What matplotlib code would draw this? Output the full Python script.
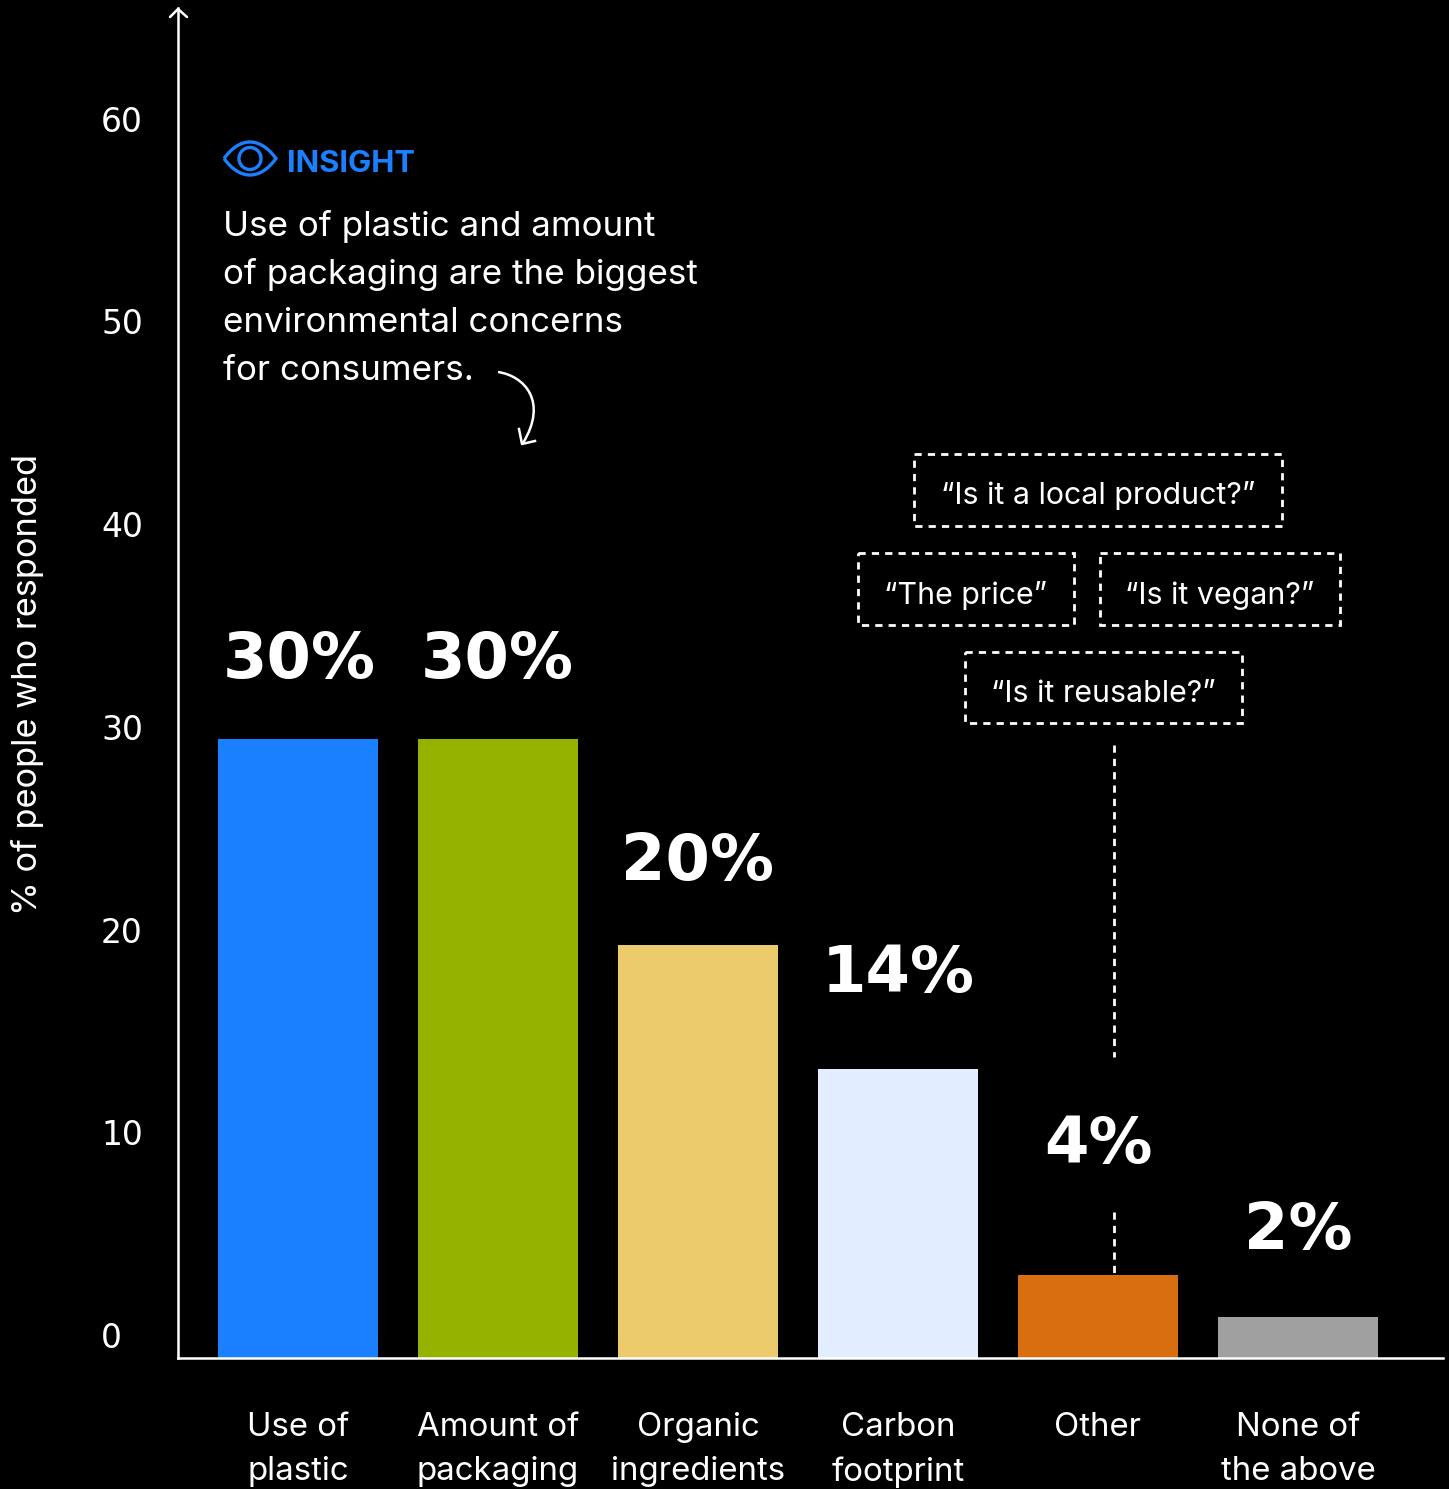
import matplotlib
matplotlib.use('Agg')
import matplotlib.pyplot as plt
from matplotlib.patches import Rectangle, PathPatch, Circle
from matplotlib.path import Path

W, H = 1449, 1489
BODY = ['Inter', 'DejaVu Sans']
NUM = ['DejaVu Sans']

categories = ['Use of\nplastic', 'Amount of\npackaging', 'Organic\ningredients',
              'Carbon\nfootprint', 'Other', 'None of\nthe above']
values = [30, 30, 20, 14, 4, 2]
colors = ['#1A80FF', '#96B200', '#EBCB6B', '#E2EEFF', '#D96E10', '#A0A0A0']
ticks = [0, 10, 20, 30, 40, 50, 60]
insight = ['Use of plastic and amount', 'of packaging are the biggest',
           'environmental concerns', 'for consumers.']
quotes = ['\u201cIs it a local product?\u201d', '\u201cThe price\u201d',
          '\u201cIs it vegan?\u201d', '\u201cIs it reusable?\u201d']


def pt(px):
    return px * 0.72


fig = plt.figure(figsize=(W / 100, H / 100), dpi=100, facecolor='black')

# bar axes: left edge on the y axis line, bottom edge on the baseline
left, right, top, bottom = 178, 1443, 8, 1358
ax = fig.add_axes([left / W, 1 - bottom / H, (right - left) / W, (bottom - top) / H])
ax.set_facecolor('none')
ax.set_xlim(-0.6, (right - 298) / 200)
ax.set_ylim(0, (bottom - top) / 20.63)
ax.bar(range(len(values)), values, width=0.8, color=colors, zorder=2)

for s in ['top', 'right']:
    ax.spines[s].set_visible(False)
for s in ['left', 'bottom']:
    ax.spines[s].set_color('white')
    ax.spines[s].set_linewidth(1.8)
    ax.spines[s].set_zorder(3)

# tick labels run on a slightly tighter spacing and lift off the baseline
ax.set_yticks([1.12 + t * 0.9825 for t in ticks], [str(t) for t in ticks])
ax.tick_params(axis='y', length=0, pad=pt(77), colors='white', labelsize=pt(33))
for lab in ax.get_yticklabels():
    lab.set_horizontalalignment('left')
ax.set_xticks(range(len(values)), categories)
ax.tick_params(axis='x', length=0, pad=pt(54), colors='white')
for lab in ax.get_xticklabels():
    lab.set_fontsize(pt(33))
    lab.set_family(BODY)
    lab.set_linespacing(1.53)
    lab.set_verticalalignment('top')

# overlay in pixel coordinates for the annotations
ov = fig.add_axes([0, 0, 1, 1])
ov.set_xlim(0, W)
ov.set_ylim(H, 0)
ov.axis('off')
ov.patch.set_alpha(0)

# axis arrow head
ov.plot([170, 178, 187], [17, 9, 17], color='white', lw=1.8, solid_capstyle='round')

ov.text(28, 684, '% of people who responded', color='white', rotation=90,
        ha='center', va='center', fontsize=pt(34.4), family=BODY)

# value labels
label_x = [299, 497, 698, 898, 1098, 1298]
label_y = [678, 678, 880, 992, 1163, 1249]
for x, y, v in zip(label_x, label_y, values):
    ov.text(x, y, f'{v}%', color='white', ha='center', va='baseline',
            fontsize=pt(64), fontweight='bold', family=NUM)

# eye icon
BLUE = '#1A80FF'
eye = Path([(224, 158.5), (240, 136.5), (260, 136.5), (276, 158.5), (260, 180.5), (240, 180.5), (224, 158.5)],
           [Path.MOVETO, Path.CURVE4, Path.CURVE4, Path.CURVE4, Path.CURVE4, Path.CURVE4, Path.CURVE4])
ov.add_patch(PathPatch(eye, fc='none', ec=BLUE, lw=2.4))
ov.add_patch(Circle((250, 158.5), 11, fc='none', ec=BLUE, lw=2.4))
ov.text(287, 172, 'INSIGHT', color=BLUE, fontsize=pt(31), fontweight='bold',
        va='baseline', family=BODY)

for i, line in enumerate(insight):
    ov.text(223, 236 + 48 * i, line, color='white', fontsize=pt(35), va='baseline', family=BODY)

# curved pointer
curve = Path([(498, 372), (525, 376), (548, 402), (523, 443)],
             [Path.MOVETO, Path.CURVE4, Path.CURVE4, Path.CURVE4])
ov.add_patch(PathPatch(curve, fc='none', ec='white', lw=1.8))
ov.plot([519, 522, 535], [429, 444, 441], color='white', lw=1.8)

# dashed quote boxes
boxes = [(914, 454, 1282, 526), (858, 553, 1074, 625), (1100, 553, 1340, 625), (965, 652, 1242, 723)]
dash = (0, (2.6, 2.2))
for (x0, y0, x1, y1), q in zip(boxes, quotes):
    ov.add_patch(Rectangle((x0, y0), x1 - x0, y1 - y0, fc='none', ec='white', lw=2, ls=dash))
    ov.text((x0 + x1) / 2, y0 + 50.5, q, color='white', ha='center', va='baseline',
            fontsize=pt(30.4), family=BODY)

# dashed leader down to the Other bar
ov.plot([1114, 1114], [745, 1057], color='white', lw=2, ls=dash)
ov.plot([1114, 1114], [1212, 1358 - 4 * 20.63], color='white', lw=2, ls=dash)

fig.savefig('out.png', dpi=100, facecolor='black')
